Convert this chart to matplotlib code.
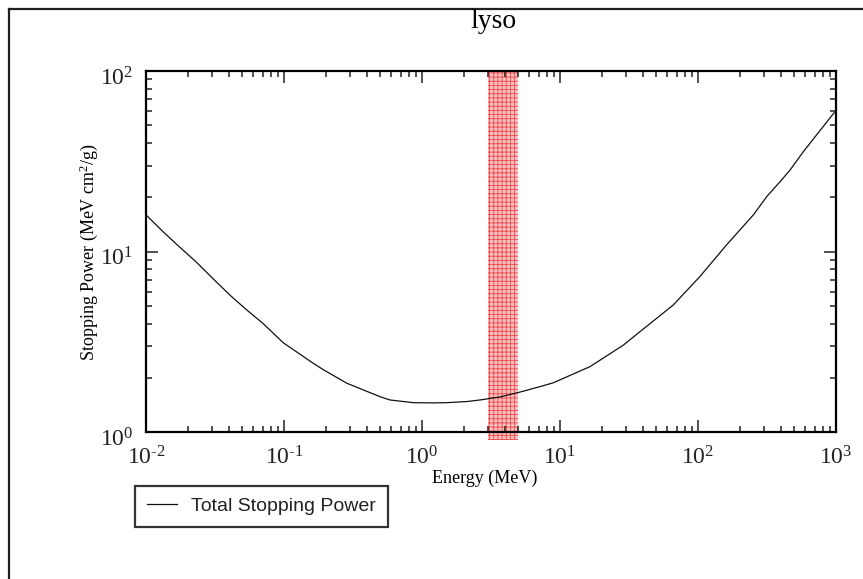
import matplotlib
matplotlib.use("Agg")
import matplotlib.pyplot as plt
from matplotlib.lines import Line2D
from matplotlib.transforms import ScaledTranslation

# ---- data ----
energy_mev = [0.01, 0.0133, 0.0174, 0.023, 0.0322, 0.0418, 0.0537, 0.0701, 0.0989,
              0.163, 0.193, 0.285, 0.496, 0.586, 0.865, 1.2, 1.51, 2.11, 2.63,
              3.11, 3.67, 5.13, 7.16, 8.94, 16.5, 28.8, 38.0, 50.2, 66.2, 103,
              161, 252, 315, 393, 464, 580, 955, 1000]
stopping_power = [16.0, 12.9, 10.66, 8.80, 6.82, 5.63, 4.76, 4.02, 3.13,
                  2.41, 2.22, 1.87, 1.575, 1.51, 1.459, 1.455, 1.459, 1.48, 1.51,
                  1.54, 1.57, 1.67, 1.79, 1.88, 2.31, 3.04, 3.61, 4.28, 5.07, 7.27,
                  10.9, 16.0, 20.2, 24.4, 28.3, 35.8, 58.0, 60.0]
band_range = [3.0, 5.0]
series_label = "Total Stopping Power"
title_text = "lyso"
xlabel_text = "Energy (MeV)"
ylabel_text = r"Stopping Power (MeV cm$^{2}$/g)"
xtick_values = [1e-2, 1e-1, 1e0, 1e1, 1e2, 1e3]
xtick_labels = [r"$10^{\text{-2}}$", r"$10^{\text{-1}}$", r"$10^{0}$", r"$10^{1}$",
                r"$10^{2}$", r"$10^{3}$"]
ytick_values = [1e0, 1e1, 1e2]
ytick_labels = [r"$10^{0}$", r"$10^{1}$", r"$10^{2}$"]

plt.rcParams['font.family'] = ['Liberation Serif', 'DejaVu Serif']
plt.rcParams['mathtext.fontset'] = 'custom'
plt.rcParams['mathtext.rm'] = 'Liberation Serif'
plt.rcParams['mathtext.it'] = 'Liberation Serif:italic'
plt.rcParams['mathtext.bf'] = 'Liberation Serif:bold'
plt.rcParams['hatch.linewidth'] = 0.6

W, H = 863, 579
fig = plt.figure(figsize=(W / 100, H / 100), dpi=100)
fig.patch.set_facecolor('white')

# outer frame (left and top edges visible)
fig.add_artist(Line2D([8.5 / W, 8.5 / W], [0, 1 - 8.5 / H], transform=fig.transFigure,
                      color='#202020', lw=1.6))
fig.add_artist(Line2D([8.5 / W, 1], [1 - 8.5 / H, 1 - 8.5 / H], transform=fig.transFigure,
                      color='#202020', lw=1.6))

ax = fig.add_axes([146 / W, 1 - 432.3 / H, 690 / W, 361.2 / H])
ax.set_xscale('log')
ax.set_yscale('log')
ax.set_xlim(1e-2, 1e3)
ax.set_ylim(1, 100)

# red hatched band
ax.axvspan(band_range[0], band_range[1], ymin=-0.022, ymax=1.0, clip_on=False,
           facecolor='#f8c0c0', edgecolor='#f04848', hatch='++++', lw=0, zorder=1)

ax.plot(energy_mev, stopping_power, color='#111111', lw=0.9, zorder=3, label=series_label)

for s in ax.spines.values():
    s.set_linewidth(1.6)
    s.set_zorder(4)

ax.set_xticks(xtick_values, xtick_labels)
ax.set_yticks(ytick_values, ytick_labels)
ax.tick_params(which='both', direction='in', top=True, right=True, width=1.1, colors='#222222')
ax.tick_params(which='major', length=8.5, labelsize=17, pad=10)
ax.tick_params(which='minor', length=4.5)
ax.tick_params(axis='y', which='major', pad=9)

ax.set_xlabel(xlabel_text, fontsize=13, va='center')
ax.xaxis.set_label_coords(0.491, -0.1265)
ax.set_ylabel(ylabel_text, fontsize=13, va='center')
ax.yaxis.set_label_coords(-0.083, 0.5)

fig.text(493 / W, 1 - 22 / H, title_text, ha='center', va='center', fontsize=20)

offset = ScaledTranslation(0, -5 / 100, fig.dpi_scale_trans)
for t in ax.yaxis.get_major_ticks():
    t.label1.set_transform(t.label1.get_transform() + offset)

leg = ax.legend(loc='upper left', bbox_to_anchor=(135 / W, 1 - 486 / H),
                bbox_transform=fig.transFigure, frameon=True, fancybox=False,
                prop={'family': 'Liberation Sans', 'size': 14},
                handlelength=1.55, handletextpad=0.75, borderpad=0.6, borderaxespad=0)
leg.get_frame().set_edgecolor('black')
leg.get_frame().set_linewidth(1.6)
for txt in leg.get_texts():
    txt.set_color('#222222')

fig.savefig('out.png', dpi=100)
